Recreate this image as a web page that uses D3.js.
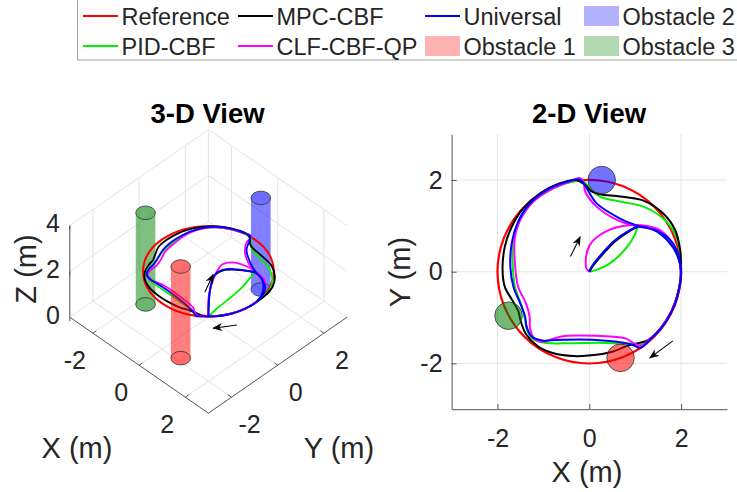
<!DOCTYPE html>
<html>
<head>
<meta charset="utf-8">
<script src="https://cdn.jsdelivr.net/npm/d3@7"></script>
<style>
  body { margin: 0; background: #fff; }
  text { font-family: "Liberation Sans", Arial, Helvetica, sans-serif; fill: #262626; }
</style>
</head>
<body>
<script>
// trajectories [x, y, z] in metres
var mpcCBF = [[0,0,0],[0.03,0.05,1.2],[0.12,0.18,1.8],[0.31,0.40,2],[0.56,0.66,2],[0.85,0.87,2],[1.07,0.98,2],[1.39,0.95,2],[1.68,0.76,2],[1.9,0.45,2],[1.99,0.08,2],[1.96,-0.34,2],[1.8,-0.84,2],[1.53,-1.26,2],[1.27,-1.5,2],[1.05,-1.56,2],[0.8,-1.63,2],[0.52,-1.74,2],[0.1,-1.82,2],[-0.35,-1.84,2],[-0.78,-1.78,2],[-1.12,-1.63,2],[-1.38,-1.36,2],[-1.5,-1.06,2],[-1.55,-0.85,2],[-1.68,-0.62,2],[-1.84,-0.33,2],[-1.89,0.04,2],[-1.84,0.55,2],[-1.69,0.98,2],[-1.44,1.38,2],[-1.07,1.71,2],[-0.64,1.93,2],[-0.28,2.0,2],[-0.1,1.9,2],[0.04,1.76,2],[0.23,1.69,2],[0.67,1.64,2],[1.18,1.55,2],[1.61,1.27,2],[1.87,0.91,2],[1.98,0.47,2],[2.0,0.04,2]]
var universal = [[0,0,0],[0.02,0.05,1.2],[0.1,0.18,1.8],[0.29,0.41,2],[0.54,0.67,2],[0.84,0.88,2],[1.07,0.98,2],[1.42,0.9,2],[1.72,0.66,2],[1.92,0.35,2],[2.0,0,2],[1.96,-0.36,2],[1.81,-0.84,2],[1.55,-1.26,2],[1.3,-1.5,2],[1.12,-1.66,2],[0.95,-1.6,2],[0.75,-1.55,2],[0.3,-1.5,2],[-0.2,-1.48,2],[-0.7,-1.49,2],[-1.02,-1.5,2],[-1.25,-1.42,2],[-1.36,-1.22,2],[-1.4,-0.98,2],[-1.5,-0.7,2],[-1.65,-0.34,2],[-1.72,0.1,2],[-1.69,0.62,2],[-1.56,1.07,2],[-1.32,1.46,2],[-0.93,1.78,2],[-0.49,1.96,2],[-0.2,2.01,2],[-0.07,1.84,2],[0.16,1.49,2],[0.67,1.16,2],[1.03,1.01,2],[1.45,0.9,2],[1.76,0.7,2],[1.94,0.38,2],[2.0,0,2]]
var pidCBF = [[0,0,0],[0.15,0.04,0.3],[0.4,0.15,0.7],[0.65,0.35,1.1],[0.87,0.6,1.5],[1.0,0.82,1.85],[1.07,0.98,2],[1.4,0.93,2],[1.7,0.7,2],[1.9,0.4,2],[2.0,0.04,2],[1.96,-0.33,2],[1.81,-0.82,2],[1.55,-1.24,2],[1.28,-1.5,2],[1.12,-1.6,2],[0.95,-1.57,2],[0.75,-1.57,2],[0.2,-1.55,2],[-0.4,-1.56,2],[-0.97,-1.55,2],[-1.24,-1.46,2],[-1.36,-1.26,2],[-1.4,-1.04,2],[-1.47,-0.76,2],[-1.62,-0.33,2],[-1.67,0.18,2],[-1.66,0.69,2],[-1.51,1.13,2],[-1.22,1.53,2],[-0.78,1.82,2],[-0.38,1.96,2],[-0.14,1.98,2],[0.0,1.83,2],[0.23,1.64,2],[0.67,1.53,2],[1.18,1.42,2],[1.61,1.16,2],[1.87,0.82,2],[1.98,0.4,2],[2.0,0,2]]
var clfCBF = [[0,0,0],[-0.06,0.07,0.8],[-0.07,0.33,1.5],[0.01,0.58,1.9],[0.23,0.8,2],[0.6,0.97,2],[0.96,1.02,2],[1.25,1.0,2],[1.54,0.91,2],[1.79,0.65,2],[1.94,0.33,2],[2.0,0,2],[1.96,-0.36,2],[1.8,-0.84,2],[1.54,-1.26,2],[1.28,-1.5,2],[1.14,-1.62,2],[0.95,-1.55,2],[0.8,-1.46,2],[0.16,-1.4,2],[-0.49,-1.4,2],[-0.78,-1.46,2],[-1.0,-1.53,2],[-1.2,-1.46,2],[-1.29,-1.24,2],[-1.3,-0.98,2],[-1.38,-0.69,2],[-1.55,-0.33,2],[-1.62,0.18,2],[-1.62,0.76,2],[-1.47,1.2,2],[-1.22,1.53,2],[-0.86,1.78,2],[-0.49,1.94,2],[-0.2,2.04,2],[-0.12,1.94,2],[-0.09,1.75,2],[0.16,1.42,2],[0.6,1.13,2],[1.03,0.99,2],[1.47,0.91,2],[1.76,0.69,2],[1.95,0.3,2],[1.99,-0.1,2]]

// reference circle
var refCenter = [0, 0], refRadius = 2, refHeight = 2

// obstacles (cylinders)
var obsNames = ['Obstacle 1', 'Obstacle 2', 'Obstacle 3']
var obsX = [0.68, 0.27, -1.76]
var obsY = [-1.88, 2.0, -0.96]
var obsR = [0.3, 0.3, 0.3]
var obsHeight = 4

// direction arrows
var arrows2D = [[[-0.41, 0.33], [-0.2, 0.76]], [[1.82, -1.51], [1.32, -1.88]]]
var arrows3D = [[[-0.15, 0, 1.0], [0.2, 0, 2.0]], [[0.86, 0.37, 0], [0.45, -0.24, 0]]]

var xTicks = [-2, 0, 2], yTicks = [-2, 0, 2], zTicks = [0, 2, 4]
var legendNames = ['Reference', 'PID-CBF', 'MPC-CBF', 'CLF-CBF-QP', 'Universal', 'Obstacle 1', 'Obstacle 2', 'Obstacle 3']

var colors = { 'Reference': '#ff0000', 'MPC-CBF': '#000000', 'Universal': '#0000ff', 'PID-CBF': '#00ee00', 'CLF-CBF-QP': '#ff00ff',
  'Obstacle 1': '#ff0000', 'Obstacle 2': '#0000ff', 'Obstacle 3': '#008000' }
var series = [['PID-CBF', pidCBF], ['MPC-CBF', mpcCBF], ['CLF-CBF-QP', clfCBF], ['Universal', universal]]

var svg = d3.select('body').append('svg').attr('width', 737).attr('height', 492)

svg.append('defs').append('marker')
  .attr('id', 'head').attr('markerUnits', 'userSpaceOnUse')
  .attr('viewBox', '0 0 10 10').attr('refX', 9).attr('refY', 5)
  .attr('markerWidth', 10).attr('markerHeight', 10).attr('orient', 'auto')
  .append('path').attr('d', 'M0,1 L10,5 L0,9 L3,5 Z').attr('fill', '#000')

// ---------- legend ----------
var leg = svg.append('g')
leg.append('rect').attr('x', 77.5).attr('y', -1).attr('width', 700).attr('height', 61)
  .attr('fill', '#fff').attr('stroke', '#a0a0a0')
var colX = [83, 238, 425, 584], rowY = [16, 46]
legendNames.forEach(function(name, i) {
  var cx = colX[Math.floor(i / 2)], cy = rowY[i % 2]
  if (name.indexOf('Obstacle') === 0) {
    leg.append('rect').attr('x', cx).attr('y', cy - 10).attr('width', 35).attr('height', 20)
      .attr('fill', colors[name]).attr('fill-opacity', 0.3)
  } else {
    leg.append('line').attr('x1', cx).attr('x2', cx + 35).attr('y1', cy).attr('y2', cy)
      .attr('stroke', colors[name]).attr('stroke-width', 2)
  }
  leg.append('text').attr('x', cx + 38.5).attr('y', cy + 9).attr('font-size', 23.5).text(name)
})

// ---------- 3-D view ----------
var ox = 208.4, oy = 317.2
var xH = d3.scaleLinear().domain([-3, 3]).range([-69.3, 69.3])
var xV = d3.scaleLinear().domain([-3, 3]).range([-48, 48])
var yH = d3.scaleLinear().domain([-3, 3]).range([-69.3, 69.3])
var yV = d3.scaleLinear().domain([-3, 3]).range([48, -48])
var zV = d3.scaleLinear().domain([0, 4]).range([0, -91.6])
function proj(x, y, z) { return [ox + xH(x) + yH(y), oy + xV(x) + yV(y) + zV(z)] }
function ellRx(r) { return (xH(r) - xH(0)) * Math.SQRT2 }
function ellRy(r) { return (xV(r) - xV(0)) * Math.SQRT2 }

var g3 = svg.append('g')
function seg(a, b, col, w) {
  var p = proj.apply(null, a), q = proj.apply(null, b)
  g3.append('line').attr('x1', p[0]).attr('y1', p[1]).attr('x2', q[0]).attr('y2', q[1])
    .attr('stroke', col).attr('stroke-width', w || 1)
}
var gridCol = '#e3e3e3'
xTicks.forEach(function(t) { seg([t, -3, 0], [t, 3, 0], gridCol); seg([t, 3, 0], [t, 3, 4], gridCol) })
yTicks.forEach(function(t) { seg([-3, t, 0], [3, t, 0], gridCol); seg([-3, t, 0], [-3, t, 4], gridCol) })
zTicks.forEach(function(t) { seg([-3, -3, t], [-3, 3, t], gridCol); seg([-3, 3, t], [3, 3, t], gridCol) })
seg([-3, 3, 0], [-3, 3, 4], gridCol)

var axCol = '#555'
seg([-3, -3, 0], [3, -3, 0], axCol)
seg([3, -3, 0], [3, 3, 0], axCol)
seg([-3, -3, 0], [-3, -3, 4], axCol)
xTicks.forEach(function(t) {
  seg([t, -3, 0], [t, -2.85, 0], axCol)
  var p = proj(t, -3, 0)
  g3.append('text').attr('x', p[0] - 18).attr('y', p[1] + 27).attr('dy', '0.35em')
    .attr('text-anchor', 'middle').attr('font-size', 25).text(String(t))
})
yTicks.forEach(function(t) {
  seg([3, t, 0], [2.85, t, 0], axCol)
  var p = proj(3, t, 0)
  g3.append('text').attr('x', p[0] + 18).attr('y', p[1] + 27).attr('dy', '0.35em')
    .attr('text-anchor', 'middle').attr('font-size', 25).text(String(t))
})
zTicks.forEach(function(t) {
  seg([-3, -3, t], [-2.88, -3.12, t], axCol)
  var p = proj(-3, -3, t)
  g3.append('text').attr('x', p[0] - 10).attr('y', p[1] - 2).attr('dy', '0.35em')
    .attr('text-anchor', 'end').attr('font-size', 25).text(String(t))
})
g3.append('text').attr('x', 77).attr('y', 448).attr('dy', '0.35em').attr('text-anchor', 'middle')
  .attr('font-size', 29).text('X (m)')
g3.append('text').attr('x', 339).attr('y', 448).attr('dy', '0.35em').attr('text-anchor', 'middle')
  .attr('font-size', 29).text('Y (m)')
g3.append('text').attr('transform', 'translate(26,269) rotate(-90)').attr('dy', '0.35em')
  .attr('text-anchor', 'middle').attr('font-size', 29).text('Z (m)')
g3.append('text').attr('x', 207.5).attr('y', 113).attr('dy', '0.35em').attr('text-anchor', 'middle')
  .attr('font-size', 27.5).attr('font-weight', 'bold').style('fill', '#000').text('3-D View')

function cylinder(i) {
  var col = colors[obsNames[i]]
  var b = proj(obsX[i], obsY[i], 0), t = proj(obsX[i], obsY[i], obsHeight)
  var rx = ellRx(obsR[i]), ry = ellRy(obsR[i])
  var d = 'M' + (t[0] - rx) + ',' + t[1] + 'L' + (b[0] - rx) + ',' + b[1] +
    'A' + rx + ',' + ry + ' 0 0 0 ' + (b[0] + rx) + ',' + b[1] +
    'L' + (t[0] + rx) + ',' + t[1] +
    'A' + rx + ',' + ry + ' 0 0 0 ' + (t[0] - rx) + ',' + t[1] + 'Z'
  g3.append('path').attr('d', d).attr('fill', col).attr('fill-opacity', 0.5)
  ;[b, t].forEach(function(c) {
    g3.append('ellipse').attr('cx', c[0]).attr('cy', c[1]).attr('rx', rx).attr('ry', ry)
      .attr('fill', col).attr('fill-opacity', 0.15).attr('stroke', '#333').attr('stroke-width', 0.8)
  })
}
cylinder(2)
cylinder(1)

var rc = proj(refCenter[0], refCenter[1], refHeight)
g3.append('ellipse').attr('cx', rc[0]).attr('cy', rc[1]).attr('rx', ellRx(refRadius)).attr('ry', ellRy(refRadius))
  .attr('fill', 'none').attr('stroke', colors['Reference']).attr('stroke-width', 2)

var line3 = d3.line()
  .x(function(d) { return proj(d[0], d[1], d[2])[0] })
  .y(function(d) { return proj(d[0], d[1], d[2])[1] })
  .curve(d3.curveCatmullRom.alpha(0.5))
series.forEach(function(s) {
  g3.append('path').datum(s[1]).attr('d', line3).attr('fill', 'none')
    .attr('stroke', colors[s[0]]).attr('stroke-width', 1.8)
})
cylinder(0)
arrows3D.forEach(function(a) {
  var p = proj.apply(null, a[0]), q = proj.apply(null, a[1])
  g3.append('line').attr('x1', p[0]).attr('y1', p[1]).attr('x2', q[0]).attr('y2', q[1])
    .attr('stroke', '#000').attr('stroke-width', 1.1).attr('marker-end', 'url(#head)')
})

// ---------- 2-D view ----------
var x2 = d3.scaleLinear().domain([-3, 3]).range([451.6, 727])
var y2 = d3.scaleLinear().domain([-3, 3]).range([409.2, 134.2])
var g2 = svg.append('g')

xTicks.forEach(function(t) {
  g2.append('line').attr('x1', x2(t)).attr('x2', x2(t)).attr('y1', y2(-3)).attr('y2', y2(3))
    .attr('stroke', '#e5e5e5')
})
yTicks.forEach(function(t) {
  g2.append('line').attr('x1', x2(-3)).attr('x2', x2(3)).attr('y1', y2(t)).attr('y2', y2(t))
    .attr('stroke', '#e5e5e5')
})

var xAxis = g2.append('g').attr('transform', 'translate(0,' + y2(-3) + ')')
  .call(d3.axisBottom(x2).tickValues(xTicks).tickSizeInner(-5).tickSizeOuter(0).tickPadding(20)
    .tickFormat(function(d) { return String(d) }))
var yAxis = g2.append('g').attr('transform', 'translate(' + x2(-3) + ',0)')
  .call(d3.axisLeft(y2).tickValues(yTicks).tickSizeInner(-5).tickSizeOuter(0).tickPadding(9)
    .tickFormat(function(d) { return String(d) }))
;[xAxis, yAxis].forEach(function(ax) {
  ax.attr('font-size', 25).attr('font-family', null)
  ax.selectAll('path, line').attr('stroke', '#555')
  ax.selectAll('text').attr('fill', '#262626')
})

g2.append('text').attr('x', 587).attr('y', 472).attr('dy', '0.35em').attr('text-anchor', 'middle')
  .attr('font-size', 29).text('X (m)')
g2.append('text').attr('transform', 'translate(400,272) rotate(-90)').attr('dy', '0.35em')
  .attr('text-anchor', 'middle').attr('font-size', 29).text('Y (m)')
g2.append('text').attr('x', 589).attr('y', 113).attr('dy', '0.35em').attr('text-anchor', 'middle')
  .attr('font-size', 27.5).attr('font-weight', 'bold').style('fill', '#000').text('2-D View')

g2.append('circle').attr('cx', x2(refCenter[0])).attr('cy', y2(refCenter[1]))
  .attr('r', x2(refRadius) - x2(0)).attr('fill', 'none')
  .attr('stroke', colors['Reference']).attr('stroke-width', 2.2)

var line2 = d3.line()
  .x(function(d) { return x2(d[0]) })
  .y(function(d) { return y2(d[1]) })
  .curve(d3.curveCatmullRom.alpha(0.5))
series.forEach(function(s) {
  g2.append('path').datum(s[1]).attr('d', line2).attr('fill', 'none')
    .attr('stroke', colors[s[0]]).attr('stroke-width', 2)
})

obsNames.forEach(function(name, i) {
  g2.append('circle').attr('cx', x2(obsX[i])).attr('cy', y2(obsY[i]))
    .attr('r', x2(obsR[i]) - x2(0)).attr('fill', colors[name]).attr('fill-opacity', 0.55)
    .attr('stroke', '#333').attr('stroke-width', 0.8)
})

arrows2D.forEach(function(a) {
  g2.append('line').attr('x1', x2(a[0][0])).attr('y1', y2(a[0][1]))
    .attr('x2', x2(a[1][0])).attr('y2', y2(a[1][1]))
    .attr('stroke', '#000').attr('stroke-width', 1.1).attr('marker-end', 'url(#head)')
})
</script>
</body>
</html>
